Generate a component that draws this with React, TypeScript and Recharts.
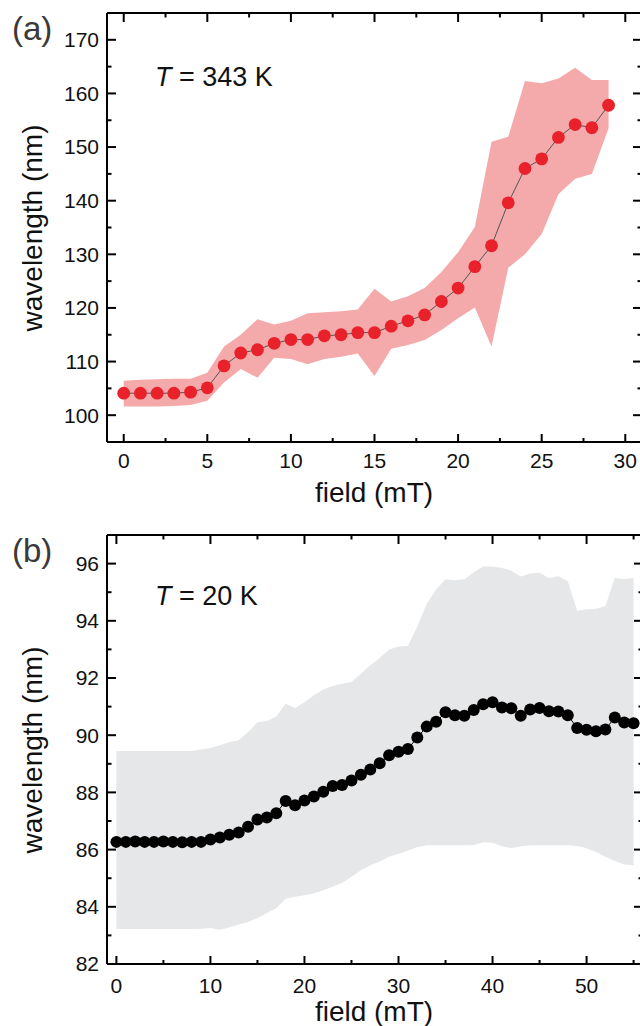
import React from 'react';
import { ComposedChart, Area, Line, XAxis, YAxis } from 'recharts';

// ---------- Panel (a): T = 343 K ----------
const fieldA = [0, 1, 2, 3, 4, 5, 6, 7, 8, 9, 10, 11, 12, 13, 14, 15, 16, 17, 18, 19, 20, 21, 22, 23, 24, 25, 26, 27, 28, 29];
const wavelengthA = [104.1, 104.1, 104.1, 104.1, 104.3, 105.1, 109.2, 111.6, 112.2, 113.4, 114.1, 114.1, 114.8, 115.0, 115.4, 115.4, 116.6, 117.6, 118.7, 121.2, 123.7, 127.7, 131.6, 139.6, 146.0, 147.8, 151.8, 154.2, 153.6, 157.8];
const bandHighA = [106.4, 106.6, 106.7, 106.8, 106.8, 107.9, 112.8, 115.0, 117.9, 116.9, 117.6, 119.0, 119.2, 119.4, 119.7, 123.6, 121.2, 122.2, 123.7, 126.7, 130.4, 135.1, 151.0, 151.9, 162.3, 161.9, 162.8, 164.8, 162.5, 162.5];
const bandLowA = [101.6, 101.6, 101.6, 101.7, 101.9, 102.7, 106.1, 108.6, 107.0, 110.7, 110.5, 109.5, 110.5, 110.9, 111.5, 107.3, 112.4, 113.1, 114.0, 115.9, 118.1, 120.1, 112.8, 127.5, 130.0, 133.8, 141.2, 144.1, 145.0, 153.5];
const xMajorA = [0, 5, 10, 15, 20, 25, 30];
const xMinorA = [2.5, 7.5, 12.5, 17.5, 22.5, 27.5];
const yMajorA = [100, 110, 120, 130, 140, 150, 160, 170];
const yMinorA = [105, 115, 125, 135, 145, 155, 165];

// ---------- Panel (b): T = 20 K ----------
const fieldB = [0, 1, 2, 3, 4, 5, 6, 7, 8, 9, 10, 11, 12, 13, 14, 15, 16, 17, 18, 19, 20, 21, 22, 23, 24, 25, 26, 27, 28, 29, 30, 31, 32, 33, 34, 35, 36, 37, 38, 39, 40, 41, 42, 43, 44, 45, 46, 47, 48, 49, 50, 51, 52, 53, 54, 55];
const wavelengthB = [
  86.27, 86.27, 86.28, 86.27, 86.27, 86.28, 86.27, 86.26, 86.27, 86.27,
  86.35, 86.42, 86.52, 86.6, 86.8, 87.05, 87.12, 87.27, 87.7, 87.55,
  87.72, 87.86, 88.02, 88.22, 88.26, 88.42, 88.62, 88.8, 89.02, 89.3,
  89.42, 89.52, 89.92, 90.3, 90.47, 90.8, 90.7, 90.68, 90.88, 91.08,
  91.15, 90.97, 90.94, 90.68, 90.9, 90.95, 90.84, 90.83, 90.7, 90.25,
  90.19, 90.14, 90.2, 90.62, 90.44, 90.42,
];
const bandHighB = [
  89.45, 89.45, 89.45, 89.45, 89.45, 89.45, 89.45, 89.45, 89.45, 89.5,
  89.55, 89.65, 89.75, 89.82, 90.1, 90.45, 90.5, 90.65, 91.1, 90.95,
  91.15, 91.4, 91.6, 91.72, 91.8, 91.86, 92.15, 92.45, 92.7, 93.0,
  93.1, 93.12, 93.8, 94.6, 95.1, 95.45, 95.42, 95.45, 95.7, 95.9,
  95.9, 95.85, 95.75, 95.55, 95.65, 95.68, 95.5, 95.56, 95.38, 94.35,
  94.4, 94.42, 94.52, 95.5, 95.45, 95.5,
];
const bandLowB = [
  83.22, 83.22, 83.22, 83.22, 83.22, 83.22, 83.22, 83.22, 83.22, 83.23,
  83.26, 83.2, 83.28, 83.38, 83.47, 83.6, 83.78, 83.95, 84.28, 84.35,
  84.4, 84.47, 84.58, 84.7, 84.84, 85.05, 85.28, 85.45, 85.58, 85.75,
  85.85, 85.97, 86.08, 86.15, 86.15, 86.15, 86.15, 86.15, 86.16, 86.26,
  86.24, 86.12, 86.05, 86.12, 86.15, 86.15, 86.15, 86.15, 86.15, 86.13,
  86.05, 85.92, 85.75, 85.6, 85.48, 85.45,
];
const xMajorB = [0, 10, 20, 30, 40, 50];
const xMinorB = [5, 15, 25, 35, 45, 55];
const yMajorB = [82, 84, 86, 88, 90, 92, 94, 96];
const yMinorB = [83, 85, 87, 89, 91, 93, 95];

const dataA = fieldA.map((f, i) => ({ field: f, wl: wavelengthA[i], band: [bandLowA[i], bandHighA[i]] }));
const dataB = fieldB.map((f, i) => ({ field: f, wl: wavelengthB[i], band: [bandLowB[i], bandHighB[i]] }));

const FONT = '"Liberation Sans", Arial, Helvetica, sans-serif';
const TICK_FS = 21;

type Side = 'bottom' | 'top' | 'left' | 'right';

function makeTick(side: Side, majors: number[], labelOffset: number, showLabel: boolean) {
  return (props: any) => {
    const { x, y, payload } = props;
    const v = payload.value;
    const major = majors.some((m) => Math.abs(m - v) < 1e-9);
    const len = major ? 9 : 4.5;
    let line: any = null;
    let label: any = null;
    if (side === 'bottom') {
      line = <line x1={x} x2={x} y1={y} y2={y - (major ? 8 : 4)} stroke="#000" strokeWidth={2} />;
      if (showLabel && major)
        label = (
          <text x={x} y={y + labelOffset} textAnchor="middle" fontSize={TICK_FS} fontFamily={FONT} fill="#111">
            {v}
          </text>
        );
    } else if (side === 'top') {
      line = <line x1={x} x2={x} y1={y} y2={y + len} stroke="#000" strokeWidth={2} />;
    } else if (side === 'left') {
      line = <line x1={x} x2={x + len} y1={y} y2={y} stroke="#000" strokeWidth={2} />;
      if (showLabel && major)
        label = (
          <text x={x - labelOffset} y={y} dy="0.35em" textAnchor="end" fontSize={TICK_FS} fontFamily={FONT} fill="#111">
            {v}
          </text>
        );
    } else {
      line = <line x1={x} x2={x - len} y1={y} y2={y} stroke="#000" strokeWidth={2} />;
    }
    return (
      <g>
        {line}
        {label}
      </g>
    );
  };
}

const AXIS_LINE = { stroke: '#000', strokeWidth: 2 };

function Panel(props: {
  data: any[];
  width: number;
  height: number;
  margin: any;
  xDomain: [number, number];
  yDomain: [number, number];
  xMajor: number[];
  xMinor: number[];
  yMajor: number[];
  yMinor: number[];
  bandColor: string;
  dotColor: string;
  dotR: number;
  lineColor: string;
  xLabelOffset: number;
}) {
  const p = props;
  const xTicks = [...p.xMajor, ...p.xMinor].sort((a, b) => a - b);
  const yTicks = [...p.yMajor, ...p.yMinor].sort((a, b) => a - b);
  return (
    <ComposedChart width={p.width} height={p.height} data={p.data} margin={p.margin}>
      <Area
        xAxisId="b"
        yAxisId="l"
        dataKey="band"
        type="linear"
        stroke="none"
        fill={p.bandColor}
        fillOpacity={1}
        dot={false}
        activeDot={false}
        isAnimationActive={false}
      />
      <Line
        xAxisId="b"
        yAxisId="l"
        dataKey="wl"
        type="linear"
        stroke={p.lineColor}
        strokeWidth={1}
        dot={{ r: p.dotR, fill: p.dotColor, stroke: 'none', strokeWidth: 0 }}
        activeDot={false}
        isAnimationActive={false}
      />
      <Line
        xAxisId="t"
        yAxisId="r"
        dataKey="wl"
        stroke="none"
        dot={false}
        activeDot={false}
        legendType="none"
        isAnimationActive={false}
      />
      <XAxis
        xAxisId="b"
        orientation="bottom"
        type="number"
        dataKey="field"
        domain={p.xDomain}
        allowDataOverflow
        ticks={xTicks}
        interval={0}
        height={1}
        tickSize={0}
        tickMargin={0}
        tickLine={false}
        axisLine={AXIS_LINE}
        tick={makeTick('bottom', p.xMajor, p.xLabelOffset, true)}
      />
      <XAxis
        xAxisId="t"
        orientation="top"
        type="number"
        dataKey="field"
        domain={p.xDomain}
        allowDataOverflow
        ticks={xTicks}
        interval={0}
        height={1}
        tickSize={0}
        tickMargin={0}
        tickLine={false}
        axisLine={AXIS_LINE}
        tick={makeTick('top', p.xMajor, 0, false)}
      />
      <YAxis
        yAxisId="l"
        orientation="left"
        type="number"
        domain={p.yDomain}
        allowDataOverflow
        ticks={yTicks}
        interval={0}
        width={1}
        tickSize={0}
        tickMargin={0}
        tickLine={false}
        axisLine={AXIS_LINE}
        tick={makeTick('left', p.yMajor, 8, true)}
      />
      <YAxis
        yAxisId="r"
        orientation="right"
        type="number"
        domain={p.yDomain}
        allowDataOverflow
        ticks={yTicks}
        interval={0}
        width={1}
        tickSize={0}
        tickMargin={0}
        tickLine={false}
        axisLine={AXIS_LINE}
        tick={makeTick('right', p.yMajor, 0, false)}
      />
    </ComposedChart>
  );
}

export default function App() {
  return (
    <div
      style={{
        position: 'absolute',
        left: 0,
        top: 0,
        width: 640,
        height: 1026,
        overflow: 'hidden',
        background: '#fff',
        fontFamily: FONT,
      }}
    >
      <div style={{ position: 'absolute', left: 0, top: 0 }}>
        <Panel
          data={dataA}
          width={643}
          height={520}
          margin={{ top: 12, right: 0, bottom: 77, left: 106 }}
          xDomain={[-1, 31]}
          yDomain={[95, 175]}
          xMajor={xMajorA}
          xMinor={xMinorA}
          yMajor={yMajorA}
          yMinor={yMinorA}
          bandColor="#f4a9ab"
          dotColor="#e8212a"
          dotR={6.4}
          lineColor="#555"
          xLabelOffset={26}
        />
      </div>
      <div style={{ position: 'absolute', left: 0, top: 520 }}>
        <Panel
          data={dataB}
          width={644}
          height={506}
          margin={{ top: 14, right: 0, bottom: 61, left: 106 }}
          xDomain={[-1, 56]}
          yDomain={[82, 97]}
          xMajor={xMajorB}
          xMinor={xMinorB}
          yMajor={yMajorB}
          yMinor={yMinorB}
          bandColor="#e6e7e8"
          dotColor="#000"
          dotR={6}
          lineColor="#000"
          xLabelOffset={29}
        />
      </div>
      <svg
        width={640}
        height={1026}
        style={{ position: 'absolute', left: 0, top: 0, pointerEvents: 'none' }}
        fontFamily={FONT}
      >
        <text x={12} y={40} fontSize={33} fill="#3a3a3a">(a)</text>
        <text x={155} y={86} fontSize={27} fill="#111">
          <tspan fontStyle="italic">T</tspan> = 343 K
        </text>
        <text x={42} y={228} fontSize={28} fill="#111" textAnchor="middle" transform="rotate(-90 42 228)">
          wavelength (nm)
        </text>
        <text x={374} y={502} fontSize={28} fill="#111" textAnchor="middle">field (mT)</text>

        <text x={12} y={562} fontSize={33} fill="#3a3a3a">(b)</text>
        <text x={155} y={605} fontSize={27} fill="#111">
          <tspan fontStyle="italic">T</tspan> = 20 K
        </text>
        <text x={42} y={750} fontSize={28} fill="#111" textAnchor="middle" transform="rotate(-90 42 750)">
          wavelength (nm)
        </text>
        <text x={374} y={1021} fontSize={28} fill="#111" textAnchor="middle">field (mT)</text>
      </svg>
    </div>
  );
}
